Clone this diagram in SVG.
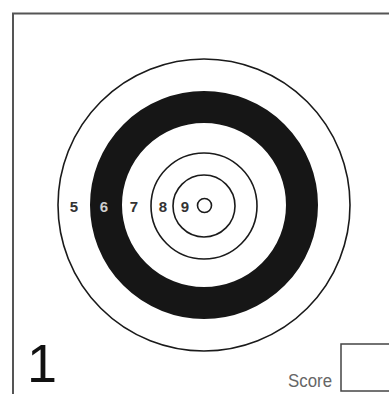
<svg xmlns="http://www.w3.org/2000/svg" width="389" height="394" viewBox="0 0 389 394">
<style>
.ring{fill:none;stroke:#1a1a1a;stroke-width:1.6}
.num{font-family:"Liberation Sans",Arial,sans-serif;font-weight:bold;font-size:15px;text-anchor:middle;fill:#333}
.lbl{font-family:"Liberation Sans",Arial,sans-serif}
</style>
<rect width="389" height="394" fill="#fff"/>
<g id="frame">
<path d="M13 394 V13.5 H389" fill="none" stroke="#555" stroke-width="2"/>
</g>
<g id="target">
<circle cx="204" cy="205" r="146" class="ring"/>
<circle cx="204" cy="205" r="98" fill="none" stroke="#161616" stroke-width="32"/>
<circle cx="204" cy="206" r="53" class="ring"/>
<circle cx="204" cy="206" r="31" class="ring"/>
<circle cx="204.5" cy="205.5" r="7" class="ring" stroke-width="1.8"/>
</g>
<g id="labels">
<text x="74" y="212" class="num">5</text>
<text x="104" y="212" class="num" style="fill:#cfcfcf">6</text>
<text x="134" y="212" class="num">7</text>
<text x="163" y="212" class="num">8</text>
<text x="185" y="212" class="num">9</text>
</g>
<g id="number">
<text x="27" y="382" class="lbl" font-size="54" fill="#111">1</text>
</g>
<g id="score">
<text x="288" y="387" class="lbl" font-size="18" fill="#666" textLength="44" lengthAdjust="spacingAndGlyphs">Score</text>
<rect x="341" y="344" width="50" height="47" fill="none" stroke="#444" stroke-width="1.5"/>
</g>
</svg>
